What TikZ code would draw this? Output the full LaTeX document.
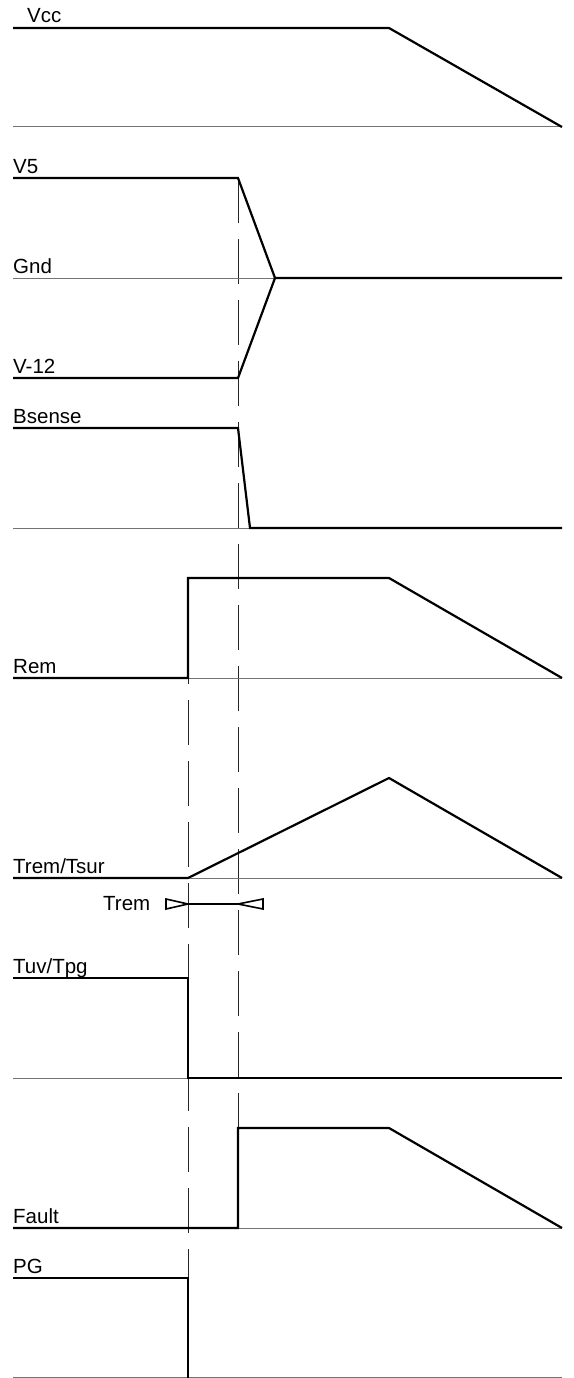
\documentclass[tikz,border=0pt]{standalone}
\usepackage{fontspec}
\setmainfont{Liberation Sans}
\begin{document}
\begin{tikzpicture}[x=1pt,y=-1pt,
  sig/.style={line width=2.2pt,line join=miter},
  base/.style={line width=1pt,black!55},
  guide/.style={line width=0.9pt,black!85,dash pattern=on 45pt off 16pt},
  lbl/.style={anchor=base west,inner sep=0pt,font=\fontsize{20.5}{20.5}\selectfont}]
\useasboundingbox (0,0) rectangle (573,1378);
% guides
\draw[guide] (238,178) -- (238,1128);
\draw[guide] (188,578) -- (188,1378);
% baselines
\foreach \y in {127,278,528,678,878,1078,1228,1377}
  \draw[base] (13,\y) -- (562,\y);
% Vcc
\node[lbl] (lvcc) at (27,23) {Vcc};
\draw[sig] (13,28) -- (389,28) -- (562,127);
% V5
\node[lbl] (lv5) at (13,173) {V5};
\draw[sig] (13,178) -- (238,178) -- (275,278) -- (562,278);
% Gnd
\node[lbl] (lgnd) at (13,273) {Gnd};
% V-12
\node[lbl] (lv12) at (13,373) {V-12};
\draw[sig] (13,378) -- (238,378) -- (275,278);
% Bsense
\node[lbl] (lbs) at (13,423) {Bsense};
\draw[sig] (13,428) -- (238,428) -- (250,528) -- (562,528);
% Rem
\node[lbl] (lrem) at (13,673) {Rem};
\draw[sig] (13,678) -- (188,678) -- (188,578) -- (389,578) -- (562,678);
% Trem/Tsur
\node[lbl] (ltt) at (13,873) {Trem/Tsur};
\draw[sig] (13,878) -- (188,878) -- (389,778) -- (562,878);
% Trem interval
\node[lbl] (ltrem) at (103,910) {Trem};
\coordinate (ta) at (188,904);
\coordinate (tb) at (238,904);
\draw[line width=1.6pt] (ta) -- (tb);
\draw[line width=1.6pt,line join=miter] (ta) -- (166,899) -- (166,909) -- cycle;
\draw[line width=1.6pt,line join=miter] (tb) -- (263,899) -- (263,909) -- cycle;
% Tuv/Tpg
\node[lbl] (ltuv) at (13,973) {Tuv/Tpg};
\draw[sig] (13,978) -- (188,978) -- (188,1078) -- (562,1078);
% Fault
\node[lbl] (lfault) at (13,1223) {Fault};
\draw[sig] (13,1228) -- (238,1228) -- (238,1128) -- (389,1128) -- (562,1228);
% PG
\node[lbl] (lpg) at (13,1273) {PG};
\draw[sig] (13,1278) -- (188,1278) -- (188,1378);
\end{tikzpicture}
\end{document}
